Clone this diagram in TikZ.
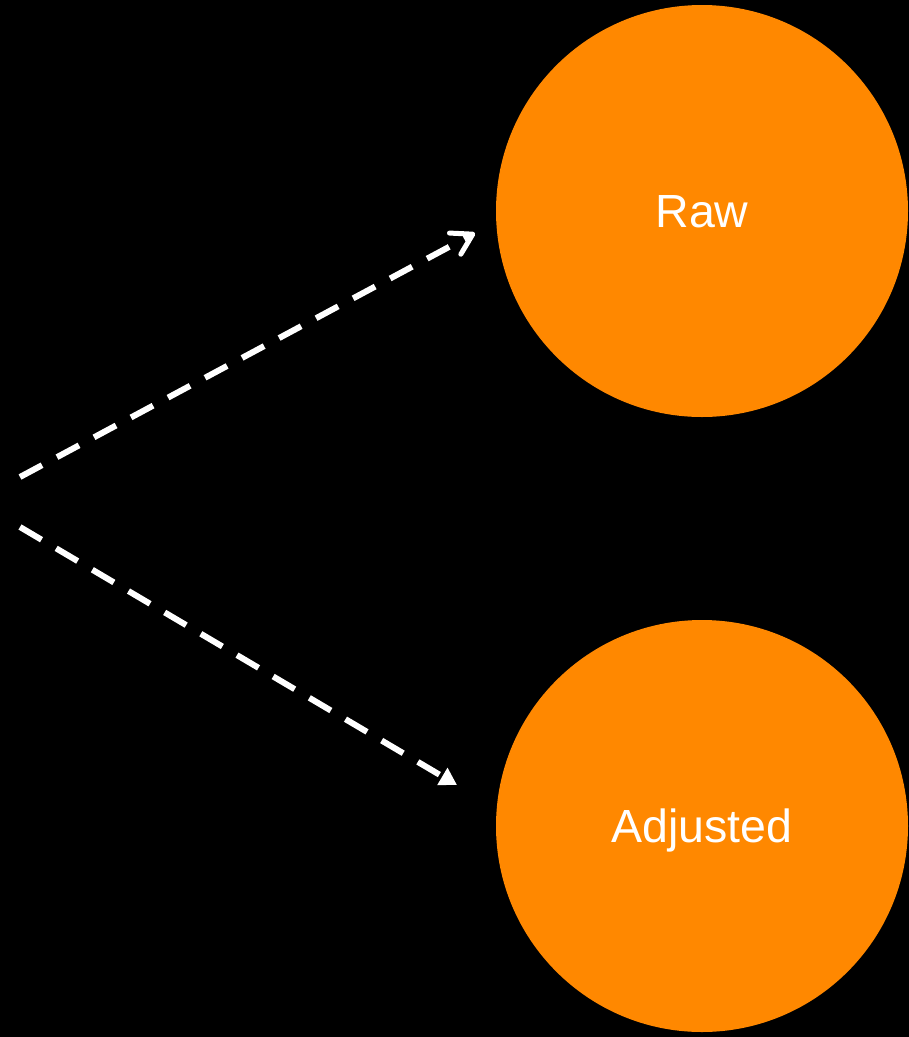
\documentclass[tikz,border=0pt]{standalone}
\usepackage{fontspec}
\setmainfont{Liberation Sans}
\usetikzlibrary{arrows.meta}
\definecolor{nodeorange}{RGB}{255,136,0}
\begin{document}
\begin{tikzpicture}[x=1pt,y=-1pt,
  blob/.style={circle,fill=nodeorange,draw=none,minimum size=412pt,inner sep=0pt,
    text=white,font=\fontsize{46.5}{55}\selectfont,text height=33pt,text depth=0pt},
  link/.style={draw=white,line width=6pt,dash pattern=on 25pt off 17pt}]
  \fill[black] (0,0) rectangle (909,1037);
  \useasboundingbox (0,0) rectangle (909,1037);
  \node[blob] (raw) at (702,211) {Raw};
  \node[blob] (adj) at (702,826) {Adjusted};
  \coordinate (s1) at (20,477);
  \coordinate (t1) at (475,233);
  \coordinate (s2) at (20,527);
  \coordinate (t2) at (457,785);
  \draw[link,-{Straight Barb[length=20pt,width=24pt,line width=5pt,line cap=round,line join=round]}] (s1) -- (t1);
  \draw[link,-{Triangle[length=17pt,width=19pt]}] (s2) -- (t2);
\end{tikzpicture}
\end{document}
